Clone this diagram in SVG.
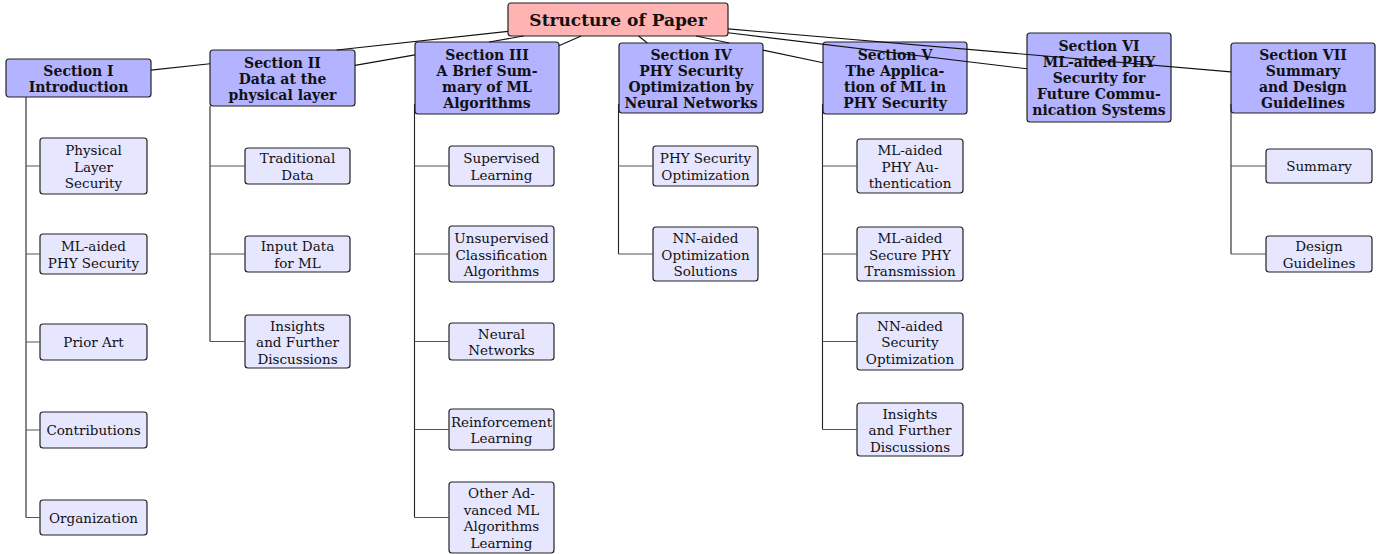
<svg xmlns="http://www.w3.org/2000/svg" width="1391" height="554" viewBox="0 0 1391 554">
  <style>
    .root rect { fill: #ffb3b3; stroke: #222; stroke-width: 1.2; }
    .sec rect { fill: #b3b3ff; stroke: #222; stroke-width: 1.2; }
    .sub rect { fill: #e6e6ff; stroke: #222; stroke-width: 1.2; }
    text { font-family: "DejaVu Serif", "Liberation Serif", "Times New Roman", serif; fill: #111; text-anchor: middle; }
    .root text { font-weight: bold; font-size: 17px; }
    .sec text { font-weight: bold; font-size: 14px; }
    .sub text { font-size: 13.5px; }
    .edge { stroke: #111; stroke-width: 1.1; fill: none; }
    .trunk { stroke: #222; stroke-width: 1.1; fill: none; }
    .branch { stroke: #555; stroke-width: 1.2; fill: none; }
  </style>

  <!-- root -->
  <g id="root" class="root">
    <rect x="508" y="3" width="220" height="33" rx="3"/>
    <text x="618" y="25.5">Structure of Paper</text>
  </g>

  <!-- sections -->
  <g id="sec1" class="sec">
    <rect x="6" y="59" width="145" height="38" rx="3"/>
    <text y="75.5"><tspan x="78.5">Section I</tspan><tspan x="78.5" dy="16">Introduction</tspan></text>
  </g>
  <g id="sec2" class="sec">
    <rect x="210" y="50" width="145" height="56" rx="3"/>
    <text y="67.5"><tspan x="282.5">Section II</tspan><tspan x="282.5" dy="16">Data at the</tspan><tspan x="282.5" dy="16">physical layer</tspan></text>
  </g>
  <g id="sec3" class="sec">
    <rect x="415" y="42" width="144" height="72" rx="3"/>
    <text y="59.5"><tspan x="487">Section III</tspan><tspan x="487" dy="16">A Brief Sum-</tspan><tspan x="487" dy="16">mary of ML</tspan><tspan x="487" dy="16">Algorithms</tspan></text>
  </g>
  <g id="sec4" class="sec">
    <rect x="619" y="43" width="144" height="70" rx="3"/>
    <text y="59.5"><tspan x="691">Section IV</tspan><tspan x="691" dy="16">PHY Security</tspan><tspan x="691" dy="16">Optimization by</tspan><tspan x="691" dy="16">Neural Networks</tspan></text>
  </g>
  <g id="sec5" class="sec">
    <rect x="823" y="42" width="144" height="72" rx="3"/>
    <text y="59.5"><tspan x="895">Section V</tspan><tspan x="895" dy="16">The Applica-</tspan><tspan x="895" dy="16">tion of ML in</tspan><tspan x="895" dy="16">PHY Security</tspan></text>
  </g>
  <g id="sec6" class="sec">
    <rect x="1027" y="33" width="144" height="89" rx="3"/>
    <text y="51"><tspan x="1099">Section VI</tspan><tspan x="1099" dy="16">ML-aided PHY</tspan><tspan x="1099" dy="16">Security for</tspan><tspan x="1099" dy="16">Future Commu-</tspan><tspan x="1099" dy="16">nication Systems</tspan></text>
  </g>
  <g id="sec7" class="sec">
    <rect x="1231" y="43" width="144" height="70" rx="3"/>
    <text y="59.5"><tspan x="1303">Section VII</tspan><tspan x="1303" dy="16">Summary</tspan><tspan x="1303" dy="16">and Design</tspan><tspan x="1303" dy="16">Guidelines</tspan></text>
  </g>

  <!-- Section I topics -->
  <g id="s1-pls" class="sub">
    <rect x="40" y="138" width="107" height="56" rx="3"/>
    <text y="155"><tspan x="93.5">Physical</tspan><tspan x="93.5" dy="16.5">Layer</tspan><tspan x="93.5" dy="16.5">Security</tspan></text>
  </g>
  <g id="s1-mlphy" class="sub">
    <rect x="40" y="234" width="107" height="40" rx="3"/>
    <text y="251.25"><tspan x="93.5">ML-aided</tspan><tspan x="93.5" dy="16.5">PHY Security</tspan></text>
  </g>
  <g id="s1-prior" class="sub">
    <rect x="40" y="324" width="107" height="36" rx="3"/>
    <text x="93.5" y="347">Prior Art</text>
  </g>
  <g id="s1-contrib" class="sub">
    <rect x="40" y="412" width="107" height="36" rx="3"/>
    <text x="93.5" y="435">Contributions</text>
  </g>
  <g id="s1-org" class="sub">
    <rect x="40" y="500" width="107" height="35" rx="3"/>
    <text x="93.5" y="522.5">Organization</text>
  </g>

  <!-- Section II topics -->
  <g id="s2-trad" class="sub">
    <rect x="245" y="148" width="105" height="36" rx="3"/>
    <text y="163.25"><tspan x="297.5">Traditional</tspan><tspan x="297.5" dy="16.5">Data</tspan></text>
  </g>
  <g id="s2-input" class="sub">
    <rect x="245" y="236" width="105" height="36" rx="3"/>
    <text y="251.25"><tspan x="297.5">Input Data</tspan><tspan x="297.5" dy="16.5">for ML</tspan></text>
  </g>
  <g id="s2-insights" class="sub">
    <rect x="245" y="315" width="105" height="53" rx="3"/>
    <text y="330.5"><tspan x="297.5">Insights</tspan><tspan x="297.5" dy="16.5">and Further</tspan><tspan x="297.5" dy="16.5">Discussions</tspan></text>
  </g>

  <!-- Section III topics -->
  <g id="s3-sup" class="sub">
    <rect x="449" y="146" width="105" height="40" rx="3"/>
    <text y="163.25"><tspan x="501.5">Supervised</tspan><tspan x="501.5" dy="16.5">Learning</tspan></text>
  </g>
  <g id="s3-unsup" class="sub">
    <rect x="449" y="226" width="105" height="56" rx="3"/>
    <text y="243"><tspan x="501.5">Unsupervised</tspan><tspan x="501.5" dy="16.5">Classification</tspan><tspan x="501.5" dy="16.5">Algorithms</tspan></text>
  </g>
  <g id="s3-nn" class="sub">
    <rect x="449" y="323" width="105" height="37" rx="3"/>
    <text y="338.75"><tspan x="501.5">Neural</tspan><tspan x="501.5" dy="16.5">Networks</tspan></text>
  </g>
  <g id="s3-rl" class="sub">
    <rect x="449" y="409" width="105" height="41" rx="3"/>
    <text y="426.75"><tspan x="501.5">Reinforcement</tspan><tspan x="501.5" dy="16.5">Learning</tspan></text>
  </g>
  <g id="s3-other" class="sub">
    <rect x="449" y="482" width="105" height="71" rx="3"/>
    <text y="498.25"><tspan x="501.5">Other Ad-</tspan><tspan x="501.5" dy="16.5">vanced ML</tspan><tspan x="501.5" dy="16.5">Algorithms</tspan><tspan x="501.5" dy="16.5">Learning</tspan></text>
  </g>

  <!-- Section IV topics -->
  <g id="s4-opt" class="sub">
    <rect x="653" y="146" width="105" height="40" rx="3"/>
    <text y="163.25"><tspan x="705.5">PHY Security</tspan><tspan x="705.5" dy="16.5">Optimization</tspan></text>
  </g>
  <g id="s4-nnopt" class="sub">
    <rect x="653" y="227" width="105" height="54" rx="3"/>
    <text y="243"><tspan x="705.5">NN-aided</tspan><tspan x="705.5" dy="16.5">Optimization</tspan><tspan x="705.5" dy="16.5">Solutions</tspan></text>
  </g>

  <!-- Section V topics -->
  <g id="s5-auth" class="sub">
    <rect x="857" y="139" width="106" height="54" rx="3"/>
    <text y="155"><tspan x="910">ML-aided</tspan><tspan x="910" dy="16.5">PHY Au-</tspan><tspan x="910" dy="16.5">thentication</tspan></text>
  </g>
  <g id="s5-trans" class="sub">
    <rect x="857" y="227" width="106" height="54" rx="3"/>
    <text y="243"><tspan x="910">ML-aided</tspan><tspan x="910" dy="16.5">Secure PHY</tspan><tspan x="910" dy="16.5">Transmission</tspan></text>
  </g>
  <g id="s5-nnsec" class="sub">
    <rect x="857" y="313" width="106" height="57" rx="3"/>
    <text y="330.5"><tspan x="910">NN-aided</tspan><tspan x="910" dy="16.5">Security</tspan><tspan x="910" dy="16.5">Optimization</tspan></text>
  </g>
  <g id="s5-insights" class="sub">
    <rect x="857" y="403" width="106" height="53" rx="3"/>
    <text y="418.5"><tspan x="910">Insights</tspan><tspan x="910" dy="16.5">and Further</tspan><tspan x="910" dy="16.5">Discussions</tspan></text>
  </g>

  <!-- Section VII topics -->
  <g id="s7-summary" class="sub">
    <rect x="1266" y="149" width="106" height="34" rx="3"/>
    <text x="1319" y="171">Summary</text>
  </g>
  <g id="s7-design" class="sub">
    <rect x="1266" y="236" width="106" height="36" rx="3"/>
    <text y="251.25"><tspan x="1319">Design</tspan><tspan x="1319" dy="16.5">Guidelines</tspan></text>
  </g>

  <!-- connectors: straight root-to-section edges (the stretches that lie behind
       neighbouring boxes are left out), then each section's trunk and branches -->
  <g id="connectors">
    <path class="edge" d="M151,70.1 L210,63.7 M336.7,50 L508,31.4"/>
    <path class="edge" d="M355,65.4 L415,54.9 M489,42 L523.4,36"/>
    <path class="edge" d="M559,45.8 L581.1,36"/>
    <path class="edge" d="M638.6,36 L647.3,43"/>
    <path class="edge" d="M696.1,36 L729.3,43 M763,50.1 L823,62.8"/>
    <path class="edge" d="M728,32.8 L1027,68.8"/>
    <path class="edge" d="M728,28.9 L1231,71.85"/>

    <!-- Section I -->
    <path class="trunk" d="M26,97 V517.5"/>
    <path class="branch" d="M26,166 H40 M26,254 H40 M26,342 H40 M26,430 H40 M26,517.5 H40"/>
    <!-- Section II -->
    <path class="trunk" d="M210,106 V341.5"/>
    <path class="branch" d="M210,166 H245 M210,254 H245 M210,341.5 H245"/>
    <!-- Section III -->
    <path class="trunk" d="M414.5,104 V517.5"/>
    <path class="branch" d="M414.5,166 H449 M414.5,254 H449 M414.5,341.5 H449 M414.5,429.5 H449 M414.5,517.5 H449"/>
    <!-- Section IV -->
    <path class="trunk" d="M618.5,104 V254"/>
    <path class="branch" d="M618.5,166 H653 M618.5,254 H653"/>
    <!-- Section V -->
    <path class="trunk" d="M822.5,104 V429.5"/>
    <path class="branch" d="M822.5,166 H857 M822.5,254 H857 M822.5,341.5 H857 M822.5,429.5 H857"/>
    <!-- Section VII -->
    <path class="trunk" d="M1231,104 V254"/>
    <path class="branch" d="M1231,166 H1266 M1231,254 H1266"/>
  </g>
</svg>
